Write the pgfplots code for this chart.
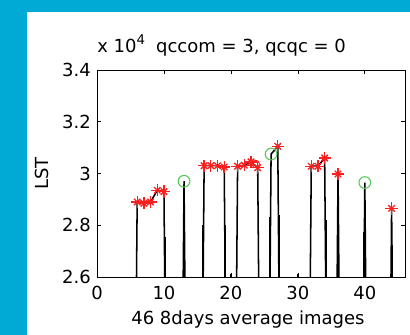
\documentclass[border=0pt]{standalone}
\usepackage{pgfplots}
\pgfplotsset{compat=1.18}
\usepackage{fontspec}
\setmainfont{DejaVu Sans}
\definecolor{bgblue}{RGB}{0,170,212}
\definecolor{mred}{RGB}{250,30,30}
\definecolor{mgreen}{RGB}{90,200,90}
\begin{document}
\begin{tikzpicture}
\fill[bgblue] (0,0) rectangle (307.5pt,251.25pt);
\fill[white] (20.25pt,0) rectangle (307.5pt,242.25pt);
\begin{axis}[
  at={(72.75pt,43.5pt)}, anchor=south west,
  scale only axis, width=231pt, height=155.25pt,
  xmin=0, xmax=46, ymin=2.6, ymax=3.4,
  xtick={0,10,20,30,40},
  ytick={2.6,2.8,3.0,3.2,3.4},
  yticklabels={2.6,2.8,3,3.2,3.4},
  tick align=inside, tick pos=both,
  major tick length=3pt,
  every tick/.style={black, line width=0.5pt},
  axis line style={black, line width=0.6pt},
  /pgf/number format/assume math mode=true,
  tick label style={font=\fontsize{13.5}{14}\selectfont},
  xticklabel style={anchor=base, yshift=-17.25pt},
  yticklabel style={anchor=east, inner sep=0pt, xshift=-4.5pt},
  xlabel={46 8days average images},
  xlabel style={font=\fontsize{13.5}{14}\selectfont, at={(axis description cs:0.49,0)}, anchor=base, yshift=-36pt},
  ylabel={LST},
  ylabel style={font=\fontsize{13.5}{14}\selectfont, at={(axis description cs:-0.178,0.5)}, anchor=center},
  clip mode=individual,
]
% main series (0 = missing)
\addplot[black, line width=1.15pt] coordinates {
(1,0)(2,0)(3,0)(4,0)(5,0)(6,2.89)(7,2.885)(8,2.89)(9,2.935)(10,2.93)
(11,0)(12,0)(13,2.97)(14,0)(15,0)(16,3.03)(17,3.03)(18,3.03)(19,3.025)(20,0)
(21,3.028)(22,3.032)(23,3.045)(24,3.022)(25,0)(26,3.075)(27,3.105)(28,0)(29,0)(30,0)
(31,0)(32,3.028)(33,3.028)(34,3.06)(35,0)(36,2.998)(37,0)(38,0)(39,0)(40,2.965)
(41,0)(42,0)(43,0)(44,2.865)(45,0)(46,0)};
% lower segments
\addplot[ycomb, black, line width=1.5pt] coordinates {
(10.12,2.755)(13,2.78)(15.9,2.80)(19.15,2.80)(25.85,2.83)(27.15,2.84)
(34.25,2.82)(36,2.79)(39.85,2.775)(44.1,2.725)};
\addplot[ycomb, black, line width=1.5pt] coordinates {
(10.1,2.615)(20,2.612)(30,2.612)};
% red stars
\addplot[only marks, mred, line width=1pt, mark=+, mark size=4.6pt] coordinates {
(6,2.89)(7,2.885)(8,2.89)(9,2.935)(10,2.93)(16,3.03)(17,3.03)(18,3.03)(19,3.025)
(21,3.028)(22,3.032)(23,3.045)(24,3.022)(27,3.105)(32,3.028)(33,3.028)(34,3.06)
(36,2.998)(44,2.865)};
\addplot[only marks, mred, line width=1pt, mark=x, mark size=3.4pt] coordinates {
(6,2.89)(7,2.885)(8,2.89)(9,2.935)(10,2.93)(16,3.03)(17,3.03)(18,3.03)(19,3.025)
(21,3.028)(22,3.032)(23,3.045)(24,3.022)(27,3.105)(32,3.028)(33,3.028)(34,3.06)
(36,2.998)(44,2.865)};
\addplot[only marks, mred, line width=0.7pt, mark=o, mark size=2.8pt] coordinates {(23.7,3.037)};
% green circles
\addplot[only marks, mgreen, line width=0.8pt, mark=o, mark size=4.4pt] coordinates {
(13,2.97)(26,3.075)(40,2.965)};
\node[anchor=base west, inner sep=0pt, font=\fontsize{13.5}{14}\selectfont] at ([yshift=12.75pt]rel axis cs:0,1) {x 10\raisebox{0.45em}{\fontsize{10}{11}\selectfont 4}};
\node[anchor=base, inner sep=0pt, font=\fontsize{13.5}{14}\selectfont] at ([yshift=12.75pt]rel axis cs:0.5,1) {qccom = 3, qcqc = 0};
\end{axis}
\pgfresetboundingbox
\useasboundingbox (0,0) rectangle (307.5pt,251.25pt);
\end{tikzpicture}
\end{document}
